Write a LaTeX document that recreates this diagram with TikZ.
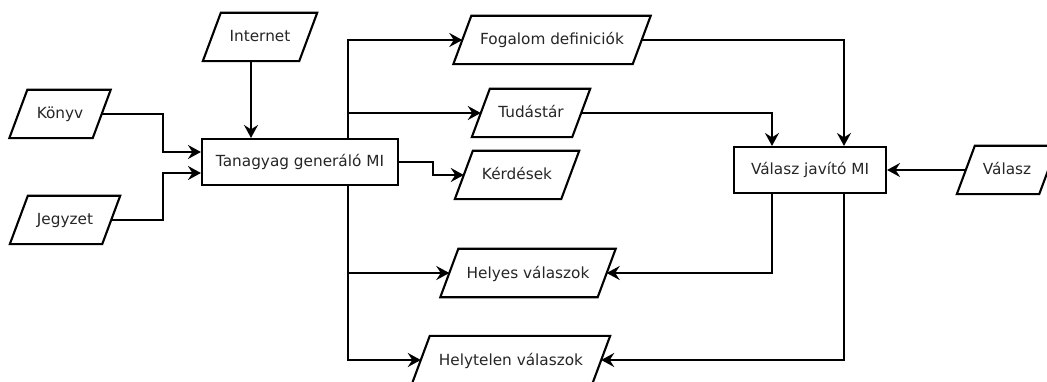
\documentclass[tikz,border=0pt]{standalone}
\usepackage{fontspec}
\setmainfont{DejaVu Sans}
\usetikzlibrary{arrows.meta}
\begin{document}
\begin{tikzpicture}[x=1pt,y=-1pt,
  lw/.style={line width=2.1pt},
  txt/.style={inner sep=0pt, text height=10pt, text depth=0pt, font=\fontsize{15.3}{18}\selectfont, text=black!85},
  box/.style={txt, draw, lw, minimum width=#1, minimum height=46pt},
  para/.style={txt, minimum width=#1, minimum height=48pt},
  arr/.style={lw, -{Stealth[length=13pt,width=14pt,inset=4.5pt]}},
]
\clip (0,0) rectangle (1047,382);
\fill[white] (0,0) rectangle (1047,382);

\node[box=196pt] (tan) at (300,162) {Tanagyag generáló MI};
\node[box=152pt] (valjav) at (810,170) {Válasz javító MI};
\node[para=96pt] (internet) at (260,37) {Internet};
\node[para=83pt] (konyv) at (60,114) {Könyv};
\node[para=92pt] (jegyzet) at (65,220) {Jegyzet};
\node[para=179pt] (fogalom) at (552,40) {Fogalom definiciók};
\node[para=100pt] (tudastar) at (531,113) {Tudástár};
\node[para=106pt] (kerdesek) at (517,175) {Kérdések};
\node[para=157pt] (helyes) at (528,273) {Helyes válaszok};
\node[para=180pt] (helytelen) at (511,360) {Helytelen válaszok};
\node[para=82pt] (valasz) at (1007,170) {Válasz};

\foreach \n in {internet,konyv,jegyzet,fogalom,tudastar,kerdesek,helyes,helytelen,valasz}
  \draw[lw] ([xshift=9pt]\n.north west) -- ([xshift=9pt]\n.north east) -- ([xshift=-9pt]\n.south east) -- ([xshift=-9pt]\n.south west) -- cycle;

% inputs of the generator
\draw[arr] ([xshift=-9pt]internet.south) -- ([xshift=-9pt]internet.south |- tan.north);
\draw[arr] (konyv.east) -| ([xshift=-38pt,yshift=10pt]tan.west) -- ([yshift=10pt]tan.west);
\draw[arr] (jegyzet.east) -| ([xshift=-38pt,yshift=-11pt]tan.west) -- ([yshift=-11pt]tan.west);

% outputs of the generator
\draw[arr] ([xshift=48pt]tan.north) |- (fogalom.west);
\draw[arr] ([xshift=48pt]tan.north) |- (tudastar.west);
\draw[arr] (tan.east) -- ++(34,0) |- (kerdesek.west);
\draw[arr] ([xshift=48pt]tan.south) |- (helyes.west);
\draw[arr] ([xshift=48pt]tan.south) |- (helytelen.west);

% corrector
\draw[arr] (fogalom.east) -| ([xshift=34pt]valjav.north);
\draw[arr] (tudastar.east) -| ([xshift=-38pt]valjav.north);
\draw[arr] (valasz.west) -- (valjav.east);
\draw[arr] ([xshift=-38pt]valjav.south) |- (helyes.east);
\draw[arr] ([xshift=34pt]valjav.south) |- (helytelen.east);
\end{tikzpicture}
\end{document}
